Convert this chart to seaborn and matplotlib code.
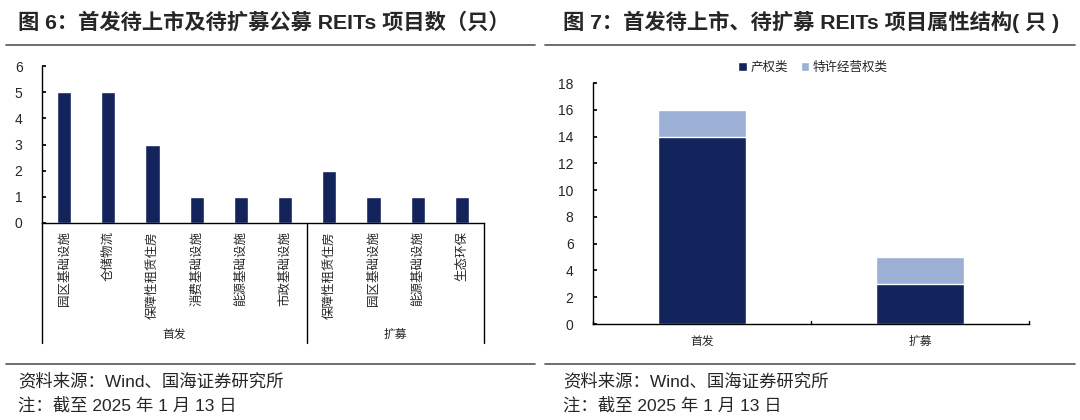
import matplotlib
matplotlib.use("Agg")
import matplotlib.pyplot as plt
import matplotlib.transforms as mtransforms
import seaborn as sns
import pandas as pd

sns.set_theme(style="white")
plt.rcParams['font.family'] = ['Liberation Sans', 'Noto Sans CJK SC', 'DejaVu Sans']

# ---- data ----
left_categories = ["园区基础设施", "仓储物流", "保障性租赁住房", "消费基础设施", "能源基础设施", "市政基础设施",
                   "保障性租赁住房", "园区基础设施", "能源基础设施", "生态环保"]
left_groups = ["首发"] * 6 + ["扩募"] * 4
left_values = [5, 5, 3, 1, 1, 1, 2, 1, 1, 1]

right_categories = ["首发", "扩募"]
right_property = [14, 3]
right_franchise = [2, 2]
legend_labels = ["产权类", "特许经营权类"]

title_left = "图 6：首发待上市及待扩募公募 REITs 项目数（只）"
title_right = "图 7：首发待上市、待扩募 REITs 项目属性结构( 只 )"
source_text = "资料来源：Wind、国海证券研究所"
note_text = "注：截至 2025 年 1 月 13 日"

DARK = "#13235B"
LIGHT = "#9BB0D4"
CJK = ['Noto Sans CJK SC', 'DejaVu Sans']
NUM = ['Liberation Sans', 'Noto Sans CJK SC']

W, H = 1080, 420
fig = plt.figure(figsize=(W / 100, H / 100), dpi=100)


def px_axes(x0, y0, x1, y1):
    return fig.add_axes([x0 / W, 1 - y1 / H, (x1 - x0) / W, (y1 - y0) / H])


# ---- left chart ----
ax1 = px_axes(42, 66, 484, 223)
df1 = pd.DataFrame({"pos": [str(i) for i in range(len(left_values))], "v": left_values})
sns.barplot(data=df1, x="pos", y="v", color=DARK, saturation=1, width=0.32, ax=ax1)
ax1.set_ylim(0, 6)
ax1.set_xlim(-0.5, len(left_values) - 0.5)
ax1.set_yticks(range(0, 7))
ax1.set_xlabel("")
ax1.set_ylabel("")
ax1.set_xticks(range(len(left_values)))
ax1.set_xticklabels(left_categories, rotation=90, fontsize=9, family=CJK, va="top")
ax1.tick_params(axis="x", length=0, pad=6)
ax1.tick_params(axis="y", direction="in", length=3, labelsize=10, pad=14, left=True, color="black")
for lab in ax1.get_yticklabels():
    lab.set_family(NUM)
for s in ["top", "right"]:
    ax1.spines[s].set_visible(False)
for s in ["left", "bottom"]:
    ax1.spines[s].set_color("black")
    ax1.spines[s].set_linewidth(1)

trans = mtransforms.blended_transform_factory(ax1.transData, ax1.transAxes)
depth = (343 - 223) / (223 - 66)
label_y = -(334 - 223) / (223 - 66)
group_names = []
group_bounds = []
for i, g in enumerate(left_groups):
    if not group_names or group_names[-1] != g:
        group_names.append(g)
        group_bounds.append([i, i])
    else:
        group_bounds[-1][1] = i
edges = [-0.5] + [b[1] + 0.5 for b in group_bounds]
for e in edges:
    ax1.plot([e, e], [0, -depth], transform=trans, color="black", lw=1, clip_on=False)
for name, (a, b) in zip(group_names, group_bounds):
    ax1.text((a + b) / 2, label_y, name, transform=trans,
             ha="center", va="center", fontsize=8.5, family=CJK)

# ---- right chart ----
ax2 = px_axes(593, 83, 1029, 324)
totals = [a + b for a, b in zip(right_property, right_franchise)]
df_tot = pd.DataFrame({"cat": right_categories, "v": totals})
df_prop = pd.DataFrame({"cat": right_categories, "v": right_property})
sns.barplot(data=df_tot, x="cat", y="v", color=LIGHT, saturation=1, width=0.4, ax=ax2,
            label=legend_labels[1])
sns.barplot(data=df_prop, x="cat", y="v", color=DARK, saturation=1, width=0.4, ax=ax2,
            label=legend_labels[0])
ax2.set_ylim(0, 18)
ax2.set_xlim(-0.5, len(right_categories) - 0.5)
ax2.set_yticks(range(0, 19, 2))
ax2.set_xlabel("")
ax2.set_ylabel("")
ax2.set_xticks(range(len(right_categories)))
ax2.set_xticklabels(right_categories, fontsize=8.5, family=CJK)
ax2.tick_params(axis="x", length=0, pad=8)
ax2.tick_params(axis="y", direction="in", length=3, labelsize=10, pad=14, left=True, color="black")
for lab in ax2.get_yticklabels():
    lab.set_family(NUM)
for e in [-0.5, 0.5, 1.5]:
    ax2.plot([e, e], [0, 0.25], color="black", lw=1, clip_on=False)
for s in ["top", "right"]:
    ax2.spines[s].set_visible(False)
for s in ["left", "bottom"]:
    ax2.spines[s].set_color("black")
    ax2.spines[s].set_linewidth(1)
handles, labels = ax2.get_legend_handles_labels()
order = [labels.index(legend_labels[0]), labels.index(legend_labels[1])]
ax2.legend([handles[i] for i in order], [labels[i] for i in order],
           loc="center", bbox_to_anchor=((813 - 593) / (1029 - 593), 1 + (83 - 67) / (324 - 83)),
           ncol=2, frameon=False, handlelength=0.7, handleheight=0.7, handletextpad=0.3,
           columnspacing=1.0, prop={"family": CJK, "size": 9})

# ---- titles, rules, footers ----
fig.text(18 / W, 1 - 22 / H, title_left, fontsize=15.3, fontweight="bold", family=NUM, va="center", ha="left")
fig.text(563 / W, 1 - 22 / H, title_right, fontsize=15.3, fontweight="bold", family=NUM, va="center", ha="left")
for x0, x1 in [(6, 535), (545, 1075)]:
    fig.add_artist(plt.Line2D([x0 / W, x1 / W], [1 - 45 / H] * 2, color="#555555", lw=1.2))
    fig.add_artist(plt.Line2D([x0 / W, x1 / W], [1 - 364 / H] * 2, color="#555555", lw=1.2))
for x0 in [18, 563]:
    fig.text(x0 / W, 1 - 381 / H, source_text, fontsize=12.5, family=NUM, va="center", ha="left")
    fig.text(x0 / W, 1 - 405 / H, note_text, fontsize=12.5, family=NUM, va="center", ha="left")

fig.savefig("out.png", dpi=100)
